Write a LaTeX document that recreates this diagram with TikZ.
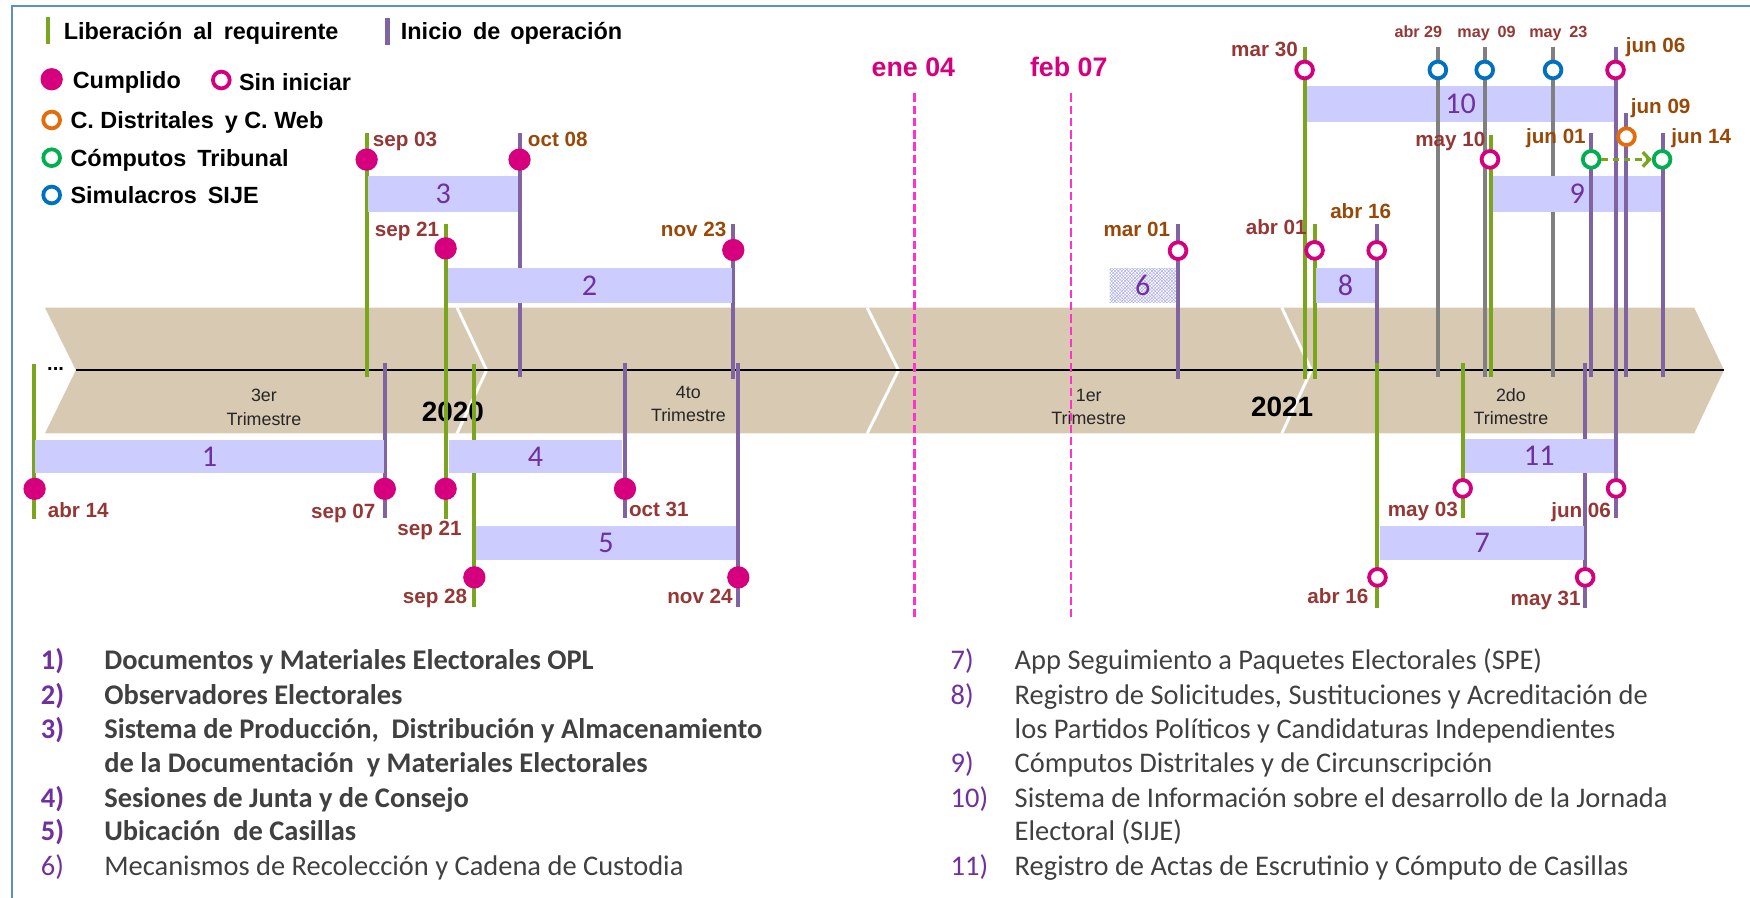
\documentclass[tikz,border=0pt]{standalone}
\usepackage{fontspec}
\setmainfont{Liberation Sans}
\newfontfamily\calfont{Carlito}
\usetikzlibrary{arrows.meta,patterns}
\definecolor{lgreen}{RGB}{122,166,30}
\definecolor{lpurple}{RGB}{128,100,162}
\definecolor{lgray}{RGB}{128,128,128}
\definecolor{mag}{RGB}{214,0,127}
\definecolor{corange}{RGB}{228,108,10}
\definecolor{cgreen}{RGB}{0,176,80}
\definecolor{cblue}{RGB}{0,112,192}
\definecolor{barfill}{RGB}{204,204,255}
\definecolor{hatchblue}{RGB}{170,170,235}
\definecolor{bandtan}{RGB}{216,201,178}
\definecolor{dred}{RGB}{149,55,53}
\definecolor{dbrown}{RGB}{152,72,7}
\definecolor{numpurple}{RGB}{112,48,160}
\definecolor{txtgray}{RGB}{64,64,64}
\definecolor{dashpink}{RGB}{255,51,204}
\definecolor{frameblue}{RGB}{91,141,207}
\newcommand{\listfont}{\calfont\fontsize{25.5}{28}\selectfont}
\newcommand{\listfontb}{\calfont\bfseries\fontsize{25.5}{28}\selectfont}
\tikzset{
  libline/.style={line width=3.6pt, draw=lgreen},
  iniline/.style={line width=3.6pt, draw=lpurple},
  simline/.style={line width=3.6pt, draw=lgray},
  done/.style={circle, fill=mag, minimum size=20pt, inner sep=0pt},
  todo/.style={circle, draw=#1, fill=white, line width=3.4pt, minimum size=15pt, inner sep=0pt},
  todo/.default=mag,
  datelbl/.style={font=\bfseries\fontsize{18.5}{20}\selectfont, inner sep=0pt},
  smalllbl/.style={font=\bfseries\fontsize{14.5}{16}\selectfont, inner sep=0pt, text=dred, anchor=base west},
  barbox/.style={fill=barfill, draw=none, inner sep=0pt, font=\calfont\fontsize{27}{30}\selectfont, text=numpurple},
  legtxt/.style={font=\bfseries\fontsize{21}{24}\selectfont, inner sep=0pt, anchor=base west},
  trim/.style={font=\fontsize{16}{18}\selectfont, inner sep=0pt, anchor=base, text=black!85},
  year/.style={font=\bfseries\fontsize{25}{28}\selectfont, inner sep=0pt, anchor=base},
  pinkdash/.style={draw=dashpink, line width=2.4pt, dash pattern=on 7.5pt off 3.5pt},
  pinklbl/.style={font=\bfseries\fontsize{24}{26}\selectfont, inner sep=0pt, anchor=base, text=mag},
  listnum/.style={font=\listfont, inner sep=0pt, anchor=base west, text=numpurple},
  listtxt/.style={font=\listfont, inner sep=0pt, anchor=base west, text=txtgray},
  listnumb/.style={listnum, font=\listfontb},
  listtxtb/.style={listtxt, font=\listfontb},
  sepline/.style={draw=white, line width=2.6pt},
}
\begin{document}
\begin{tikzpicture}[x=1pt,y=-1pt]
\useasboundingbox (0,0) rectangle (1568,804);
% frame
\draw[frameblue, line width=1.2pt] (10.7,815) -- (10.7,5.4) -- (1580,5.4);

% ---------- legend ----------
\draw[libline, line width=4pt] (42.9,15) -- (42.9,39);
\node[legtxt] (legLib) at (57,35.8) {Liberación\hspace{4pt} al\hspace{4pt} requirente};
\draw[iniline, line width=4pt] (347,16.4) -- (347,40.3);
\node[legtxt] (legIni) at (359,35.8) {Inicio\hspace{4pt} de\hspace{3pt} operación};
\node[done] (legDone) at (46.3,71) {};
\node[legtxt] (legDoneT) at (65,79) {Cumplido};
\node[todo] (legTodo) at (198.3,71.7) {};
\node[legtxt] (legTodoT) at (214,81) {Sin iniciar};
\node[todo=corange] (legOr) at (46.3,107.5) {};
\node[legtxt] (legOrT) at (63,115) {C. Distritales\hspace{4pt} y C. Web};
\node[todo=cgreen] (legGr) at (46.3,141.3) {};
\node[legtxt] (legGrT) at (63,148.8) {Cómputos\hspace{4pt} Tribunal};
\node[todo=cblue] (legBl) at (46.3,174.7) {};
\node[legtxt] (legBlT) at (63,182.3) {Simulacros\hspace{4pt} SIJE};

% ---------- band ----------
\path[fill=bandtan] (40.3,275.7) -- (1518,275.7) -- (1544.7,331.6) -- (1518,388.3) -- (40.3,388.3) -- (68,331.6) -- cycle;
\draw[sepline] (409.5,275.7) -- (436,331.6) -- (409.5,388.3);
\draw[sepline] (777,275.7) -- (805,331.6) -- (777,388.3);
\draw[sepline] (1148.5,275.7) -- (1175,331.6) -- (1148.5,388.3);
\coordinate (axL) at (68,331.6);
\coordinate (axR) at (1544.7,331.6);
\draw[line width=1.6pt] (axL) -- (axR);
\node[font=\bfseries\fontsize{18}{20}\selectfont, inner sep=0pt] (dots) at (49.8,331) {...};

\node[trim] (q3a) at (236.5,360) {3er};
\node[trim] (q3b) at (236.5,380.8) {Trimestre};
\node[trim] (q4a) at (616.8,357) {4to};
\node[trim] (q4b) at (616.8,377.5) {Trimestre};
\node[trim] (q1a) at (975.5,359.5) {1er};
\node[trim] (q1b) at (975.5,380) {Trimestre};
\node[trim] (q2a) at (1353.8,360) {2do};
\node[trim] (q2b) at (1353.8,380) {Trimestre};
\node[year] (y2020) at (405.8,377.9) {2020};
\node[year] (y2021) at (1148.7,373.4) {2021};

% ---------- pink dashed markers ----------
\coordinate (eneT) at (819.5,83.6);
\coordinate (eneB) at (819.5,556.5);
\coordinate (febT) at (959.5,83.6);
\coordinate (febB) at (959.5,556.5);
\draw[pinkdash] (eneT) -- (eneB);
\draw[pinkdash] (febT) -- (febB);
\node[pinklbl] (eneL) at (818.4,68.7) {ene 04};
\node[pinklbl] (febL) at (957.6,68.7) {feb 07};

% ---------- event lines (under bars) ----------
\draw[libline] (328.5,119.5) -- (328.5,337.5);   % sep 03
\draw[iniline] (465.5,119.5) -- (465.5,338);     % oct 08
\draw[libline] (399.3,200.7) -- (399.3,465);     % sep 21
\draw[iniline] (657,200.7) -- (657,340);         % nov 23
\draw[libline] (30.6,326) -- (30.6,465);         % abr 14
\draw[iniline] (344.8,325.6) -- (344.8,464);     % sep 07
\draw[iniline] (560,325.6) -- (560,464.5);       % oct 31
\draw[libline] (425,326) -- (425,544);           % sep 28
\draw[iniline] (661.5,325.6) -- (661.5,544);     % nov 24
\draw[iniline] (1055.5,201) -- (1055.5,340);     % mar 01
\draw[libline] (1169.4,41.8) -- (1169.4,340);    % mar 30
\draw[libline] (1177.8,201) -- (1177.8,340);     % abr 01
\draw[iniline] (1233.5,201) -- (1233.5,326);     % abr 16 (upper)
\draw[libline] (1234,325.6) -- (1234,545);       % abr 16 (lower)
\draw[libline] (1335.5,121) -- (1335.5,338);     % may 10
\draw[libline] (1310.5,325.6) -- (1310.5,464.5); % may 03
\draw[iniline] (1420.5,325.6) -- (1420.5,545);   % may 31

% bar 10 under the grey lines
\node[barbox, minimum width=274.8pt, minimum height=32pt] (b10) at (1308.7,93) {10};
\draw[simline] (1288.3,41.8) -- (1288.3,338);    % abr 29
\draw[simline] (1330.3,41.8) -- (1330.3,338);    % may 09
\draw[simline] (1391.5,41.8) -- (1391.5,338);    % may 23

% ---------- bars ----------
\node[barbox, minimum width=312.3pt, minimum height=29.9pt] (b1) at (187.75,409.25) {1};
\node[barbox, minimum width=254.6pt, minimum height=30.8pt] (b2) at (528.3,255.8) {2};
\node[barbox, minimum width=134.5pt, minimum height=32pt] (b3) at (397.25,173.7) {3};
\node[barbox, minimum width=155.4pt, minimum height=29.9pt] (b4) at (479.9,409.25) {4};
\node[barbox, minimum width=233.1pt, minimum height=30.1pt] (b5) at (543.05,486.45) {5};
\node[barbox, fill=none, preaction={fill=white}, pattern=crosshatch, pattern color=hatchblue, minimum width=59.5pt, minimum height=30.7pt] (b6) at (1023.95,255.85) {6};
\node[barbox, minimum width=183pt, minimum height=30.2pt] (b7) at (1328,486.4) {7};
\node[barbox, minimum width=53.1pt, minimum height=30.8pt] (b8) at (1205.45,255.8) {8};
\node[barbox, minimum width=151.1pt, minimum height=32.3pt] (b9) at (1413.25,173.55) {9};
\node[barbox, minimum width=133.7pt, minimum height=29.8pt] (b11) at (1379.15,408.6) {11};

% lines above bars
\draw[iniline] (1425.7,119.5) -- (1425.7,338);   % jun 01
\draw[iniline] (1448,41.8) -- (1448,464);        % jun 06
\draw[iniline] (1457.3,101.6) -- (1457.3,338);   % jun 09
\draw[iniline] (1489.6,119.5) -- (1489.6,338);   % jun 14

% ---------- circles ----------
\node[done] (sep03) at (328.5,143) {};
\node[done] (oct08) at (465.5,143) {};
\node[done] (sep21u) at (399.3,222.5) {};
\node[done] (nov23) at (657,224) {};
\node[done] (abr14) at (31,438) {};
\node[done] (sep07) at (344.8,438) {};
\node[done] (sep21l) at (399.3,438) {};
\node[done] (oct31) at (560,438) {};
\node[done] (sep28) at (425,517.3) {};
\node[done] (nov24) at (661.5,517.3) {};

\node[todo] (mar01) at (1055.5,224.6) {};
\node[todo] (mar30) at (1168.9,62.7) {};
\node[todo] (abr01) at (1177.8,224.3) {};
\node[todo] (abr16u) at (1233.5,224.3) {};
\node[todo] (abr16l) at (1234.2,517.3) {};
\node[todo=cblue] (abr29) at (1288.3,62.7) {};
\node[todo=cblue] (may09) at (1330.3,62.7) {};
\node[todo=cblue] (may23) at (1391.5,62.7) {};
\node[todo] (jun06u) at (1447.5,62.7) {};
\node[todo=corange] (jun09) at (1457.3,122.5) {};
\node[todo] (may10) at (1335,142.8) {};
\node[todo=cgreen] (jun01) at (1425.7,142.8) {};
\node[todo=cgreen] (jun14) at (1489.2,142.8) {};
\node[todo] (may03) at (1310.5,437.6) {};
\node[todo] (jun06l) at (1448,437.6) {};
\node[todo] (may31) at (1420.3,517.3) {};

\draw[draw=lgreen, line width=3pt, dash pattern=on 6pt off 4pt, -{Straight Barb[length=6pt,width=13pt]}] (jun01) -- (jun14);

% ---------- date labels ----------
\node[datelbl, text=dred, anchor=base west] (Lsep03) at (333.9,131.4) {sep 03};
\node[datelbl, text=dbrown, anchor=base west] (Loct08) at (472.8,131.4) {oct 08};
\node[datelbl, text=dred, anchor=base east] (Lsep21u) at (393.7,211.5) {sep 21};
\node[datelbl, text=dbrown, anchor=base east] (Lnov23) at (651,211.5) {nov 23};
\node[datelbl, text=dred, anchor=base west] (Labr14) at (42.7,464) {abr 14};
\node[datelbl, text=dred, anchor=base east] (Lsep07) at (336.6,464.5) {sep 07};
\node[datelbl, text=dred, anchor=base east] (Lsep21l) at (413.8,480) {sep 21};
\node[datelbl, text=dred, anchor=base west] (Loct31) at (563.4,463) {oct 31};
\node[datelbl, text=dred, anchor=base east] (Lsep28) at (418.7,541) {sep 28};
\node[datelbl, text=dred, anchor=base east] (Lnov24) at (656.7,541) {nov 24};
\node[datelbl, text=dbrown, anchor=base east] (Lmar01) at (1048.6,211.5) {mar 01};
\node[datelbl, text=dred, anchor=base east] (Labr01) at (1171,210) {abr 01};
\node[datelbl, text=dbrown, anchor=base west] (Labr16u) at (1191.7,196) {abr 16};
\node[datelbl, text=dred, anchor=base east] (Lmar30) at (1163,50.3) {mar 30};
\node[smalllbl] (Labr29) at (1249.3,34) {abr 29};
\node[smalllbl] (Lmay09) at (1305.7,34) {may\hspace{3pt} 09};
\node[smalllbl] (Lmay23) at (1370,34) {may\hspace{3pt} 23};
\node[datelbl, text=dbrown, anchor=base west] (Ljun06u) at (1456.5,47.3) {jun 06};
\node[datelbl, text=dbrown, anchor=base west] (Ljun09) at (1461,101.7) {jun 09};
\node[datelbl, text=dred, anchor=base east] (Lmay10) at (1331,131) {may 10};
\node[datelbl, text=dbrown, anchor=base east] (Ljun01) at (1421,128.5) {jun 01};
\node[datelbl, text=dbrown, anchor=base west] (Ljun14) at (1497.4,128.5) {jun 14};
\node[datelbl, text=dred, anchor=base east] (Lmay03) at (1306.4,462.5) {may 03};
\node[datelbl, text=dred, anchor=base east] (Ljun06l) at (1443.6,464) {jun 06};
\node[datelbl, text=dred, anchor=base east] (Labr16l) at (1226.2,541) {abr 16};
\node[datelbl, text=dred, anchor=base east] (Lmay31) at (1416.5,542.3) {may 31};

% ---------- list ----------
\node[listnumb] (n1) at (36.4,599.5) {1)};
\node[listtxtb] (t1) at (93.3,599.5) {Documentos y Materiales Electorales OPL};
\node[listnumb] (n2) at (36.4,631) {2)};
\node[listtxtb] (t2) at (93.3,631) {Observadores Electorales};
\node[listnumb] (n3) at (36.4,661.5) {3)};
\node[listtxtb] (t3) at (93.3,661.5) {Sistema de Producción,\ \ Distribución y Almacenamiento};
\node[listtxtb] (t3b) at (93.3,692) {de la Documentación\ \ y Materiales Electorales};
\node[listnumb] (n4) at (36.4,723.5) {4)};
\node[listtxtb] (t4) at (93.3,723.5) {Sesiones de Junta y de Consejo};
\node[listnumb] (n5) at (36.4,753) {5)};
\node[listtxtb] (t5) at (93.3,753) {Ubicación\ \ de Casillas};
\node[listnum] (n6) at (36.4,784) {6)};
\node[listtxt] (t6) at (93.3,784) {Mecanismos de Recolección y Cadena de Custodia};

\node[listnum] (n7) at (851.6,599.5) {7)};
\node[listtxt] (t7) at (909,599.5) {App Seguimiento a Paquetes Electorales (SPE)};
\node[listnum] (n8) at (851.6,631) {8)};
\node[listtxt] (t8) at (909,631) {Registro de Solicitudes, Sustituciones y Acreditación de};
\node[listtxt] (t8b) at (909,661.5) {los Partidos Políticos y Candidaturas Independientes};
\node[listnum] (n9) at (851.6,692) {9)};
\node[listtxt] (t9) at (909,692) {Cómputos Distritales y de Circunscripción};
\node[listnum] (n10) at (851.6,723.5) {10)};
\node[listtxt] (t10) at (909,723.5) {Sistema de Información sobre el desarrollo de la Jornada};
\node[listtxt] (t10b) at (909,753) {Electoral (SIJE)};
\node[listnum] (n11) at (851.6,784) {11)};
\node[listtxt] (t11) at (909,784) {Registro de Actas de Escrutinio y Cómputo de Casillas};
\end{tikzpicture}
\end{document}
